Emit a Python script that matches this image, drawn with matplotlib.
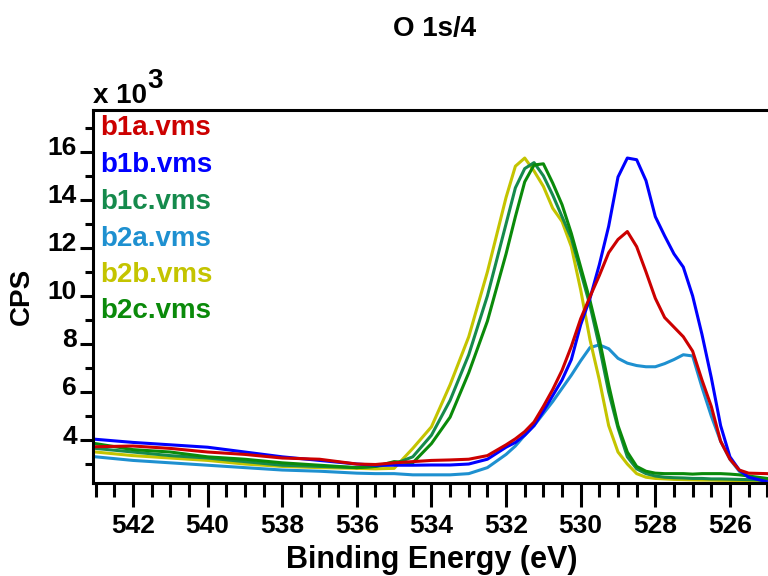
import matplotlib
matplotlib.use("Agg")
import matplotlib.pyplot as plt
import matplotlib.transforms as mtransforms
from matplotlib.ticker import MultipleLocator

plt.rcParams["font.family"] = ["Liberation Sans", "DejaVu Sans"]
plt.rcParams["font.weight"] = "bold"

# binding energy grid (eV) and counts (x 10^3)
energy = [543.0, 542.0, 541.0, 540.0, 539.0, 538.0, 537.0, 536.0, 535.5, 535.0,
          534.5, 534.0, 533.5, 533.0, 532.5, 532.0, 531.75, 531.5, 531.25, 531.0,
          530.75, 530.5, 530.25, 530.0, 529.75, 529.5, 529.25, 529.0, 528.75, 528.5,
          528.25, 528.0, 527.75, 527.5, 527.25, 527.0, 526.75, 526.5, 526.25, 526.0,
          525.75, 525.5, 525.0]

b1a = [3.72, 3.75, 3.65, 3.5, 3.4, 3.25, 3.2, 3.0, 2.98, 3.05,
       3.1, 3.15, 3.17, 3.2, 3.35, 3.8, 4.05, 4.35, 4.75, 5.4,
       6.1, 6.9, 7.9, 9.05, 9.97, 10.85, 11.8, 12.35, 12.68, 12.05,
       11.0, 9.9, 9.1, 8.7, 8.3, 7.7, 6.5, 5.4, 3.95, 3.2,
       2.75, 2.62, 2.6]
b1b = [4.03, 3.9, 3.8, 3.7, 3.5, 3.3, 3.15, 3.0, 2.95, 2.95,
       2.95, 2.96, 2.96, 3.0, 3.2, 3.7, 3.9, 4.2, 4.6, 5.2,
       5.85, 6.5, 7.35, 8.8, 9.9, 11.3, 12.9, 14.95, 15.74, 15.67,
       14.8, 13.3, 12.5, 11.75, 11.2, 10.0, 8.4, 6.6, 4.6, 3.3,
       2.75, 2.45, 2.26]
b1c = [3.65, 3.5, 3.35, 3.25, 3.1, 2.95, 2.9, 2.85, 2.9, 3.0,
       3.3, 4.2, 5.65, 7.55, 10.0, 13.0, 14.5, 15.3, 15.55, 15.0,
       14.2, 13.3, 12.4, 11.0, 9.6, 7.9, 6.0, 4.5, 3.3, 2.8,
       2.6, 2.5, 2.45, 2.43, 2.42, 2.4, 2.4, 2.38, 2.38, 2.37,
       2.36, 2.35, 2.33]
b2a = [3.3, 3.15, 3.05, 2.95, 2.85, 2.75, 2.7, 2.62, 2.6, 2.6,
       2.55, 2.55, 2.55, 2.6, 2.85, 3.4, 3.75, 4.2, 4.6, 5.1,
       5.6, 6.15, 6.7, 7.3, 7.85, 7.96, 7.8, 7.4, 7.2, 7.1,
       7.05, 7.05, 7.18, 7.35, 7.55, 7.5, 6.2, 5.0, 3.95, 3.2,
       2.7, 2.45, 2.33]
b2b = [3.5, 3.35, 3.25, 3.15, 3.0, 2.9, 2.85, 2.82, 2.8, 2.82,
       3.65, 4.55, 6.3, 8.3, 11.0, 14.1, 15.4, 15.74, 15.2, 14.56,
       13.65, 13.1, 12.05, 10.25, 8.17, 6.5, 4.6, 3.5, 3.0, 2.6,
       2.45, 2.4, 2.38, 2.36, 2.35, 2.34, 2.33, 2.33, 2.32, 2.32,
       2.3, 2.28, 2.26]
b2c = [3.85, 3.6, 3.5, 3.3, 3.2, 3.05, 2.95, 2.85, 2.9, 3.1,
       3.05, 3.85, 4.95, 6.8, 8.95, 11.75, 13.3, 14.75, 15.45, 15.5,
       14.7, 13.8, 12.6, 11.2, 9.8, 8.2, 6.3, 4.6, 3.5, 2.9,
       2.7, 2.62, 2.6, 2.6, 2.6, 2.58, 2.6, 2.6, 2.6, 2.58,
       2.55, 2.5, 2.4]

names = ["b1a.vms", "b1b.vms", "b1c.vms", "b2a.vms", "b2b.vms", "b2c.vms"]
series = [b1a, b1b, b1c, b2a, b2b, b2c]
colors = ["#cc0000", "#0000ff", "#158a4c", "#1e90d0", "#c4c400", "#0a8a0a"]
draw_order = [3, 4, 2, 5, 1, 0]

fig = plt.figure(figsize=(7.68, 5.76), dpi=100)
ax = fig.add_axes([93 / 768, 93 / 576, 675 / 768, 373 / 576])

for i in draw_order:
    ax.plot(energy, series[i], color=colors[i], lw=2.2)

ax.set_xlim(543.07, 524.98)
ax.set_ylim(2.21, 17.74)

ax.xaxis.set_major_locator(MultipleLocator(2))
ax.xaxis.set_minor_locator(MultipleLocator(0.5))
ax.yaxis.set_minor_locator(MultipleLocator(1))
ax.set_yticks([4, 6, 8, 10, 12, 14, 16])

ax.spines["right"].set_visible(False)
for side in ["left", "bottom", "top"]:
    ax.spines[side].set_linewidth(2.2)

ax.tick_params(axis="x", which="major", direction="out", length=17, width=2.2,
               labelsize=19, pad=5)
ax.tick_params(axis="x", which="minor", direction="out", length=10, width=2.2)
ax.tick_params(axis="y", which="major", direction="out", length=9.5, width=2.2,
               labelsize=19, pad=2)
ax.tick_params(axis="y", which="minor", direction="out", length=6, width=2.2)
ax.tick_params(top=False, right=False, which="both")

# y tick labels sit a little above their ticks in the reference
shift_up = mtransforms.ScaledTranslation(0, 6 / 100, fig.dpi_scale_trans)
for lab in ax.get_yticklabels():
    lab.set_transform(lab.get_transform() + shift_up)
for lab in ax.get_xticklabels() + ax.get_yticklabels():
    lab.set_fontweight("bold")

ax.set_xlabel("Binding Energy (eV)", fontsize=22, fontweight="bold")
ax.xaxis.set_label_coords(0.502, -0.206)
ax.xaxis.label.set_va("center")
ax.set_ylabel("CPS", fontsize=20, fontweight="bold")
ax.yaxis.set_label_coords(-0.105, 0.501)
ax.yaxis.label.set_va("center")

fig.text(435 / 768, 1 - 29 / 576, "O 1s/4", ha="center", va="center",
         fontsize=20, fontweight="bold")
fig.text(93 / 768, 1 - 103 / 576, "x 10", ha="left", va="baseline",
         fontsize=20, fontweight="bold")
fig.text(147 / 768, 1 - 88 / 576, "3", ha="left", va="baseline",
         fontsize=20, fontweight="bold")

label_y = [128, 165, 202, 239, 275, 311]
for name, col, py in zip(names, colors, label_y):
    ax.text((100 - 93) / 675, (483 - py) / 373, name,
            transform=ax.transAxes, color=col, ha="left", va="center",
            fontsize=20, fontweight="bold")

fig.savefig("out.png", dpi=100)
